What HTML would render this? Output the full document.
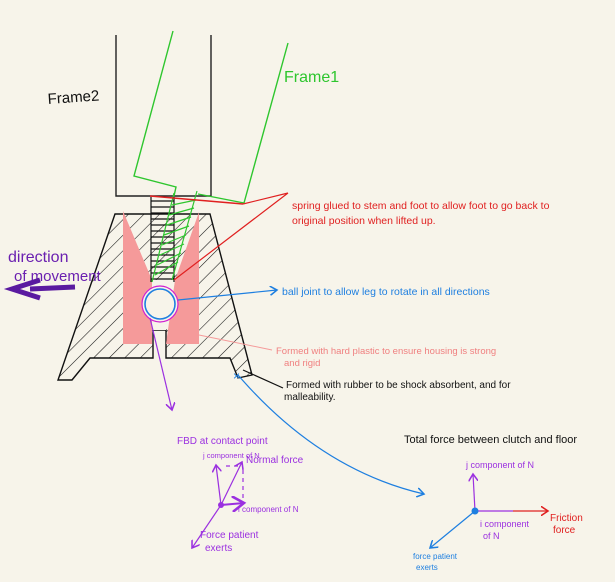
<!DOCTYPE html>
<html><head><meta charset="utf-8"><style>
html,body{margin:0;padding:0;background:#f7f4ea;}
svg{display:block;font-family:"Liberation Sans",sans-serif;}
</style></head><body>
<svg width="615" height="582" viewBox="0 0 615 582">
<defs>
<pattern id="hatch" width="11" height="11" patternUnits="userSpaceOnUse" patternTransform="rotate(45)">
<line x1="0" y1="0" x2="0" y2="11" stroke="#111" stroke-width="1.1"/>
</pattern>
<marker id="ab" markerWidth="8" markerHeight="8" refX="6" refY="4" orient="auto"><path d="M0,0 L6,4 L0,8" fill="none" stroke="#1e7fe0" stroke-width="1.3"/></marker>
<marker id="ap" markerWidth="8" markerHeight="8" refX="6" refY="4" orient="auto"><path d="M0,0 L6,4 L0,8" fill="none" stroke="#9b30e0" stroke-width="1.3"/></marker>
<marker id="ar" markerWidth="8" markerHeight="8" refX="6" refY="4" orient="auto"><path d="M0,0 L6,4 L0,8" fill="none" stroke="#e02020" stroke-width="1.3"/></marker>
</defs>
<rect width="615" height="582" fill="#f7f4ea"/>
<!-- Frame 2 -->
<path d="M116,35 L116,196 L211,196 L211,35" fill="none" stroke="#222" stroke-width="1.4"/>
<text x="48" y="104" font-size="15" fill="#111" transform="rotate(-4 48 104)">Frame2</text>
<!-- Frame 1 -->
<path d="M173,31 L134,176 L176,187 L174,196 M198,194 L244,203 L288,43" fill="none" stroke="#2ec62e" stroke-width="1.4"/>
<text x="284" y="82" font-size="16" fill="#2ec62e">Frame1</text>
<!-- housing -->
<path d="M115,214 L210,214 L252,375 L238,378 L230,358 L166,358 L166,330 L153,330 L153,358 L90,358 L72,380 L58,380 Z" fill="url(#hatch)" stroke="#111" stroke-width="1.4"/>
<!-- pink plastic -->
<path d="M123,211 L152,280 L152,344 L123,344 Z" fill="#f59a9a"/>
<path d="M199,212 L175,280 L166,344 L199,344 Z" fill="#f59a9a"/>
<path d="M152,280 L152,330 L166,330 L175,280 Z" fill="#f7f4ea"/>
<!-- spring black -->
<g stroke="#111" stroke-width="1.2">
<line x1="151" y1="197" x2="151" y2="282"/><line x1="174" y1="197" x2="174" y2="282"/>
<line x1="151" y1="201" x2="174" y2="201"/><line x1="151" y1="207" x2="174" y2="207"/><line x1="151" y1="213" x2="174" y2="213"/><line x1="151" y1="219" x2="174" y2="219"/><line x1="151" y1="225" x2="174" y2="225"/><line x1="151" y1="231" x2="174" y2="231"/><line x1="151" y1="237" x2="174" y2="237"/><line x1="151" y1="243" x2="174" y2="243"/><line x1="151" y1="249" x2="174" y2="249"/><line x1="151" y1="255" x2="174" y2="255"/><line x1="151" y1="261" x2="174" y2="261"/><line x1="151" y1="267" x2="174" y2="267"/><line x1="151" y1="273" x2="174" y2="273"/><line x1="151" y1="279" x2="174" y2="279"/>
</g>
<!-- green spring -->
<g stroke="#2ec62e" stroke-width="1.2" fill="none">
<path d="M174,193 L152,282 M197,191 L172,280"/>
<path d="M172,205 L196,200 M169,215 L194,208 M167,225 L191,217 M164,235 L189,226 M162,245 L186,235 M160,255 L184,244 M157,265 L181,253 M155,275 L178,262"/>
</g>
<line x1="150" y1="196" x2="243" y2="204" stroke="#e02020" stroke-width="1.5"/>
<!-- ball -->
<circle cx="160" cy="304" r="18" fill="#f7f4ea" stroke="#d020d0" stroke-width="1.2"/>
<circle cx="160" cy="304" r="15" fill="none" stroke="#1e7fe0" stroke-width="1.6"/>
<!-- leader lines -->
<path d="M288,193 L243,204 M288,193 L174,280" stroke="#e02020" stroke-width="1.2" fill="none"/>
<text x="292" y="209" font-size="10.5" fill="#e02020">spring glued to stem and foot to allow foot to go back to</text>
<text x="292" y="224" font-size="10.5" fill="#e02020">original position when lifted up.</text>
<line x1="178" y1="300" x2="277" y2="290" stroke="#1e7fe0" stroke-width="1.2" marker-end="url(#ab)"/>
<text x="282" y="295" font-size="10.5" fill="#1e7fe0">ball joint to allow leg to rotate in all directions</text>
<line x1="199" y1="335" x2="272" y2="350" stroke="#f59a9a" stroke-width="1"/>
<text x="276" y="354" font-size="9.5" fill="#f08080">Formed with hard plastic to ensure housing is strong</text>
<text x="284" y="366" font-size="9.5" fill="#f08080">and rigid</text>
<line x1="243" y1="370" x2="283" y2="388" stroke="#111" stroke-width="1.2"/>
<text x="286" y="388" font-size="10" fill="#111">Formed with rubber to be shock absorbent, and for</text>
<text x="284" y="400" font-size="10" fill="#111">malleability.</text>
<!-- direction of movement -->
<text x="8" y="262" font-size="16" fill="#6a1fb0">direction</text>
<text x="14" y="281" font-size="15" fill="#6a1fb0">of movement</text>
<path d="M75,287 L30,289 M40,280 L12,289 L40,298" stroke="#5a1aa0" stroke-width="5" fill="none"/>
<!-- purple arrow down -->
<line x1="150" y1="318" x2="172" y2="410" stroke="#9b30e0" stroke-width="1.2" marker-end="url(#ap)"/>
<!-- blue curve -->
<path d="M238,375 Q320,470 424,494" stroke="#1e7fe0" stroke-width="1.2" fill="none" marker-end="url(#ab)"/>
<text x="233" y="380" font-size="12" fill="#1e7fe0">×</text>
<!-- FBD -->
<g fill="#9b30e0">
<text x="177" y="444" font-size="10">FBD at contact point</text>
<text x="203" y="458" font-size="7.5">j component of N</text>
<text x="246" y="463" font-size="10">Normal force</text>
<text x="238" y="512" font-size="8">i component of N</text>
<text x="200" y="538" font-size="10">Force patient</text>
<text x="205" y="551" font-size="10">exerts</text>
<circle cx="221" cy="505" r="3"/>
</g>
<g stroke="#9b30e0" stroke-width="1.2" fill="none">
<line x1="221" y1="505" x2="216" y2="465" marker-end="url(#ap)"/>
<line x1="221" y1="505" x2="242" y2="462" marker-end="url(#ap)"/>
<line x1="221" y1="505" x2="244" y2="503" stroke-width="2" marker-end="url(#ap)"/>
<line x1="221" y1="505" x2="192" y2="548" marker-end="url(#ap)"/>
<path d="M226,466 L240,466 M243,470 L243,500" stroke-dasharray="4,4"/>
</g>
<!-- total force -->
<text x="404" y="443" font-size="11" fill="#111">Total force between clutch and floor</text>
<g>
<line x1="475" y1="511" x2="473" y2="474" stroke="#9b30e0" stroke-width="1.2" marker-end="url(#ap)"/>
<line x1="475" y1="511" x2="513" y2="511" stroke="#9b30e0" stroke-width="1.2"/>
<line x1="513" y1="511" x2="548" y2="511" stroke="#e02020" stroke-width="1.2" marker-end="url(#ar)"/>
<line x1="475" y1="511" x2="430" y2="548" stroke="#1e7fe0" stroke-width="1.2" marker-end="url(#ab)"/>
<circle cx="475" cy="511" r="3.5" fill="#1e7fe0"/>
<text x="466" y="468" font-size="9" fill="#9b30e0">j component of N</text>
<text x="480" y="527" font-size="9" fill="#9b30e0">i component</text>
<text x="483" y="539" font-size="9" fill="#9b30e0">of N</text>
<text x="550" y="521" font-size="10" fill="#e02020">Friction</text>
<text x="553" y="533" font-size="10" fill="#e02020">force</text>
<text x="413" y="559" font-size="8" fill="#1e7fe0">force patient</text>
<text x="416" y="570" font-size="8" fill="#1e7fe0">exerts</text>
</g>
</svg>
</body></html>
